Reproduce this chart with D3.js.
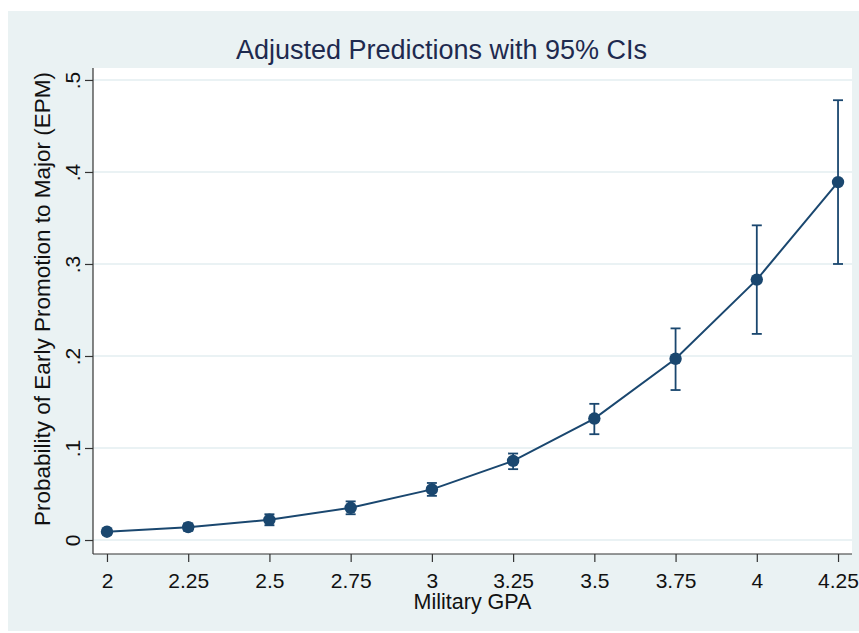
<!DOCTYPE html>
<html lang="en">
<head>
<meta charset="UTF-8">
<title>Adjusted Predictions with 95% CIs</title>
<script src="https://d3js.org/d3.v7.min.js"></script>
<style>
    body { margin: 0; background: #fff; }
    svg { display: block; font-family: "Liberation Sans", Arial, sans-serif; }
    .grid line { stroke: #e3eef1; stroke-width: 1.5px; }
    .axis path, .axis line { stroke: #333; stroke-width: 1.2px; }
    .axis text { font-size: 21px; fill: #111; }
    .line { fill: none; stroke: #1a476f; stroke-width: 2px; }
    .ci { stroke: #1a476f; stroke-width: 1.8px; }
    .dot { fill: #1a476f; }
</style>
</head>
<body>
<div id="chart"></div>
<script>
    // military GPA values and predicted probabilities
    var gpa = [2, 2.25, 2.5, 2.75, 3, 3.25, 3.5, 3.75, 4, 4.25];
    var prob = [0.009, 0.014, 0.022, 0.035, 0.055, 0.086, 0.132, 0.197, 0.283, 0.389];
    var ciLow = [0.006, 0.010, 0.016, 0.028, 0.048, 0.077, 0.115, 0.163, 0.224, 0.300];
    var ciHigh = [0.012, 0.018, 0.028, 0.042, 0.062, 0.094, 0.148, 0.230, 0.342, 0.478];
    var yTicks = [0, 0.1, 0.2, 0.3, 0.4, 0.5];
    var yTickLabels = ["0", ".1", ".2", ".3", ".4", ".5"];

    var w = 859, h = 633;
    var plot = { left: 93, right: 852, top: 68, bottom: 554 };

    var svg = d3.select("#chart").append("svg")
        .attr("width", w)
        .attr("height", h);

    // outer panel
    svg.append("rect")
        .attr("x", 8).attr("y", 11)
        .attr("width", w - 8).attr("height", h - 13)
        .attr("fill", "#eaf2f3");

    svg.append("rect")
        .attr("x", plot.left).attr("y", plot.top)
        .attr("width", plot.right - plot.left).attr("height", plot.bottom - plot.top)
        .attr("fill", "#fff");

    var xScale = d3.scaleLinear()
        .domain([1.957, 4.293])
        .range([plot.left, plot.right]);

    var yScale = d3.scaleLinear()
        .domain([-0.0152, 0.513])
        .range([plot.bottom, plot.top]);

    // gridlines
    svg.append("g")
        .attr("class", "grid")
        .selectAll("line")
        .data(yTicks)
        .enter().append("line")
        .attr("x1", plot.left)
        .attr("x2", plot.right)
        .attr("y1", function(d) { return yScale(d); })
        .attr("y2", function(d) { return yScale(d); });

    // axes
    var xAxis = svg.append("g")
        .attr("class", "axis")
        .attr("transform", "translate(0," + plot.bottom + ")")
        .call(d3.axisBottom(xScale)
            .tickValues(gpa)
            .tickFormat(d3.format("~g"))
            .tickSizeOuter(0)
            .tickSize(8));
    xAxis.select(".domain").attr("d", "M" + plot.left + ",0H" + plot.right);
    xAxis.selectAll(".tick text").attr("y", 34).attr("dy", null);

    var yAxis = svg.append("g")
        .attr("class", "axis")
        .attr("transform", "translate(" + plot.left + ",0)")
        .call(d3.axisLeft(yScale)
            .tickValues(yTicks)
            .tickFormat(function(d, i) { return yTickLabels[i]; })
            .tickSizeOuter(0)
            .tickSize(8));
    yAxis.select(".domain").attr("d", "M0," + plot.top + "V" + plot.bottom);
    yAxis.selectAll(".tick text")
        .attr("x", 0).attr("dy", null)
        .attr("text-anchor", "middle")
        .attr("transform", "translate(-13,0) rotate(-90)");

    // confidence intervals
    var ci = svg.append("g");
    gpa.forEach(function(g, i) {
        var x = xScale(g);
        ci.append("line").attr("class", "ci")
            .attr("x1", x).attr("x2", x)
            .attr("y1", yScale(ciLow[i])).attr("y2", yScale(ciHigh[i]));
        ci.append("line").attr("class", "ci")
            .attr("x1", x - 5).attr("x2", x + 5)
            .attr("y1", yScale(ciLow[i])).attr("y2", yScale(ciLow[i]));
        ci.append("line").attr("class", "ci")
            .attr("x1", x - 5).attr("x2", x + 5)
            .attr("y1", yScale(ciHigh[i])).attr("y2", yScale(ciHigh[i]));
    });

    var line = d3.line()
        .x(function(d, i) { return xScale(gpa[i]); })
        .y(function(d) { return yScale(d); });

    svg.append("path")
        .datum(prob)
        .attr("class", "line")
        .attr("d", line);

    svg.append("g")
        .selectAll("circle")
        .data(prob)
        .enter().append("circle")
        .attr("class", "dot")
        .attr("cx", function(d, i) { return xScale(gpa[i]); })
        .attr("cy", function(d) { return yScale(d); })
        .attr("r", 6.2);

    // titles
    svg.append("text")
        .attr("x", (plot.left + plot.right) / 2 - 31)
        .attr("y", 59)
        .attr("text-anchor", "middle")
        .attr("font-size", "27px")
        .attr("fill", "#1e2a4f")
        .text("Adjusted Predictions with 95% CIs");

    svg.append("text")
        .attr("x", (plot.left + plot.right) / 2)
        .attr("y", 609)
        .attr("text-anchor", "middle")
        .attr("font-size", "21.5px")
        .attr("fill", "#111")
        .text("Military GPA");

    svg.append("text")
        .attr("transform", "translate(50," + ((plot.top + plot.bottom) / 2 - 12) + ") rotate(-90)")
        .attr("text-anchor", "middle")
        .attr("font-size", "22.5px")
        .attr("fill", "#111")
        .text("Probability of Early Promotion to Major (EPM)");
</script>
</body>
</html>
